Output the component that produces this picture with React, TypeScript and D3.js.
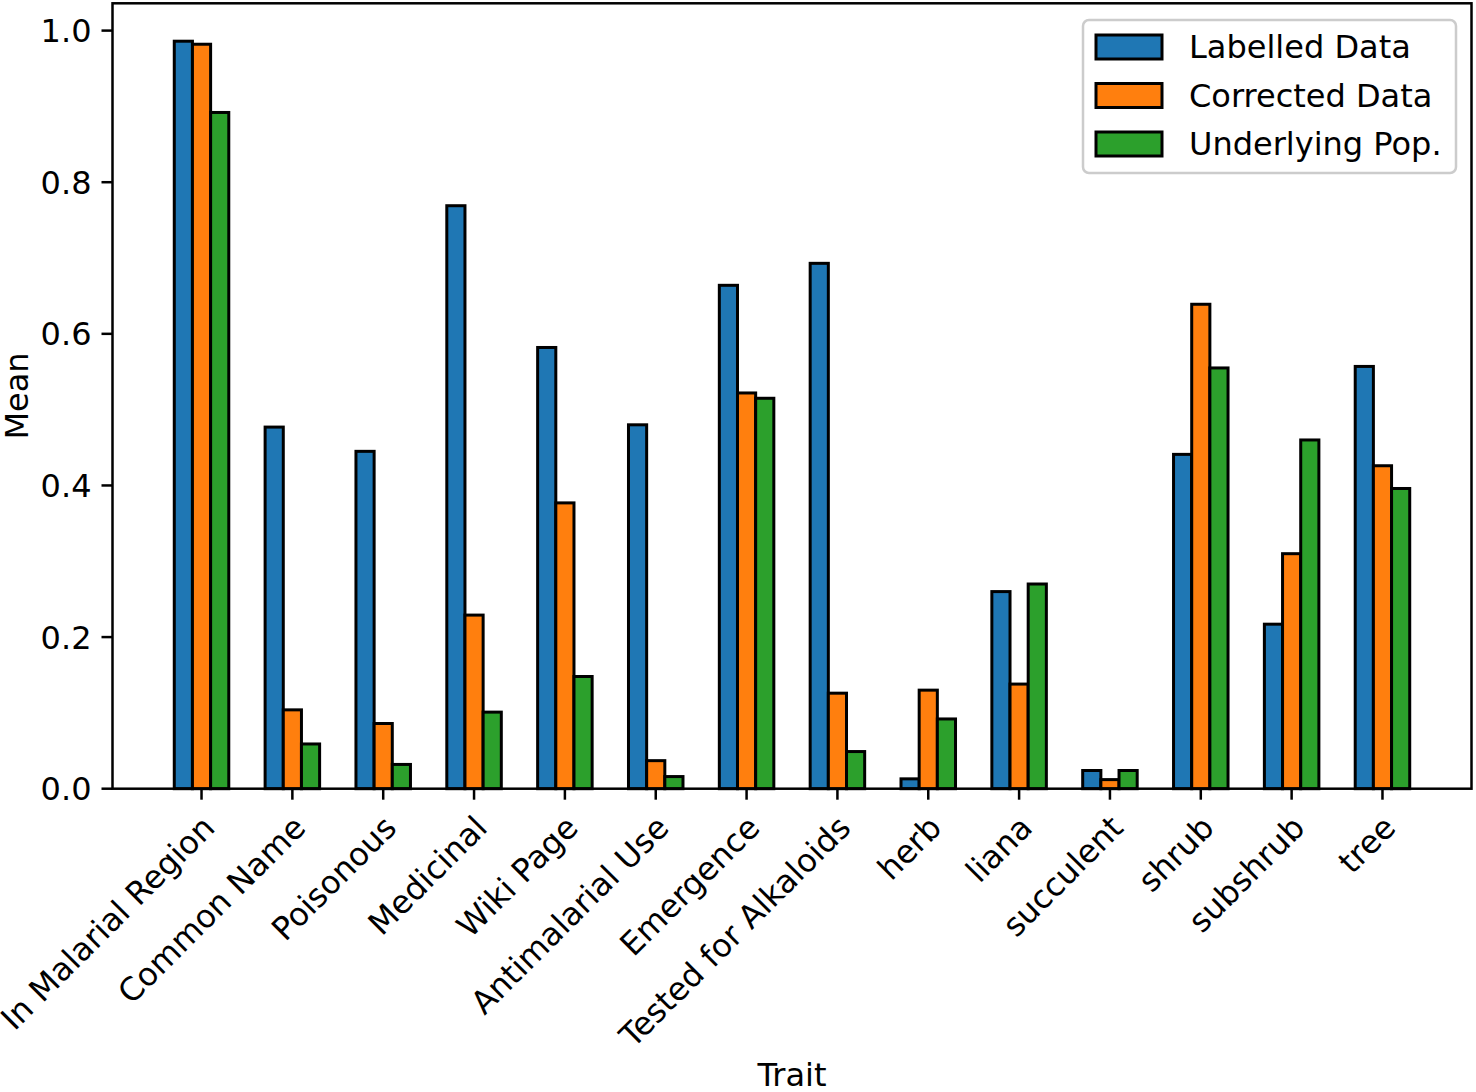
import React from 'react';
import { scaleLinear, format, range } from 'd3';

const width = 1476;
const height = 1092;
const margin = { left: 112.5, right: 4.5, top: 3.3, bottom: 303.3 };
const fontSize = 32;
const fontFamily = '"DejaVu Sans", Verdana, sans-serif';

const traits = [
  'In Malarial Region', 'Common Name', 'Poisonous', 'Medicinal', 'Wiki Page',
  'Antimalarial Use', 'Emergence', 'Tested for Alkaloids', 'herb', 'liana',
  'succulent', 'shrub', 'subshrub', 'tree',
];
const labelled = [0.986, 0.477, 0.445, 0.769, 0.582, 0.480, 0.664, 0.693, 0.013, 0.260, 0.024, 0.441, 0.217, 0.557];
const corrected = [0.982, 0.104, 0.086, 0.229, 0.377, 0.037, 0.522, 0.126, 0.130, 0.138, 0.012, 0.639, 0.310, 0.426];
const underlying = [0.892, 0.059, 0.032, 0.101, 0.148, 0.016, 0.515, 0.049, 0.092, 0.270, 0.024, 0.555, 0.460, 0.396];
const seriesNames = ['Labelled Data', 'Corrected Data', 'Underlying Pop.'];
const seriesColors = ['#1f77b4', '#ff7f0e', '#2ca02c'];
const yTicks = [0, 0.2, 0.4, 0.6, 0.8, 1.0];

const series = [labelled, corrected, underlying];
const barWidth = 0.2;

const plotRight = width - margin.right;
const plotBottom = height - margin.bottom;

const x = scaleLinear().domain([-0.98, traits.length - 1 + 0.98]).range([margin.left, plotRight]);
const y = scaleLinear().domain([0, 1.036]).range([plotBottom, margin.top]);
const bw = x(barWidth) - x(0);
const fmt = format('.1f');

const tickLen = 11;
const lineW = 2.5;

const App = () => (
  <svg
    width={width}
    height={height}
    style={{ position: 'absolute', left: 0, top: 0, background: 'white' }}
    fontFamily={fontFamily}
    fontSize={fontSize}
  >
    <rect width={width} height={height} fill='white' />

    {series.map((vals, j) => (
      <g key={j}>
        {vals.map((v, i) => (
          <rect
            key={i}
            x={x(i + (j - 1) * barWidth) - bw / 2}
            y={y(v)}
            width={bw}
            height={y(0) - y(v)}
            fill={seriesColors[j]}
            stroke='black'
            strokeWidth={3}
          />
        ))}
      </g>
    ))}

    {/* spines */}
    <rect
      x={margin.left}
      y={margin.top}
      width={plotRight - margin.left}
      height={plotBottom - margin.top}
      fill='none'
      stroke='black'
      strokeWidth={lineW}
    />

    {/* y axis */}
    {yTicks.map(t => (
      <g key={t} transform={`translate(${margin.left}, ${y(t)})`}>
        <line x1={-tickLen} x2={0} stroke='black' strokeWidth={lineW} />
        <text x={-tickLen - 10} dy='0.36em' textAnchor='end'>{fmt(t)}</text>
      </g>
    ))}
    <text
      transform={`translate(28, ${(margin.top + plotBottom) / 2}) rotate(-90)`}
      textAnchor='middle'
    >Mean</text>

    {/* x axis */}
    {traits.map((t, i) => (
      <g key={t}>
        <line x1={x(i)} x2={x(i)} y1={plotBottom} y2={plotBottom + tickLen} stroke='black' strokeWidth={lineW} />
        <text
          transform={`translate(${x(i) + 15}, ${plotBottom + 41}) rotate(-45)`}
          textAnchor='end'
        >{t}</text>
      </g>
    ))}
    <text x={(margin.left + plotRight) / 2} y={1086} textAnchor='middle'>Trait</text>

    {/* legend */}
    <g transform='translate(1083, 20)'>
      <rect width={373} height={153} rx={6} fill='white' fillOpacity={0.8} stroke='#cccccc' strokeWidth={2.5} />
      {range(seriesNames.length).map(j => (
        <g key={j} transform={`translate(0, ${15 + j * 48.5})`}>
          <rect x={13} y={0} width={66} height={24} fill={seriesColors[j]} stroke='black' strokeWidth={3} />
          <text x={106} y={23}>{seriesNames[j]}</text>
        </g>
      ))}
    </g>
  </svg>
);

export default App;
